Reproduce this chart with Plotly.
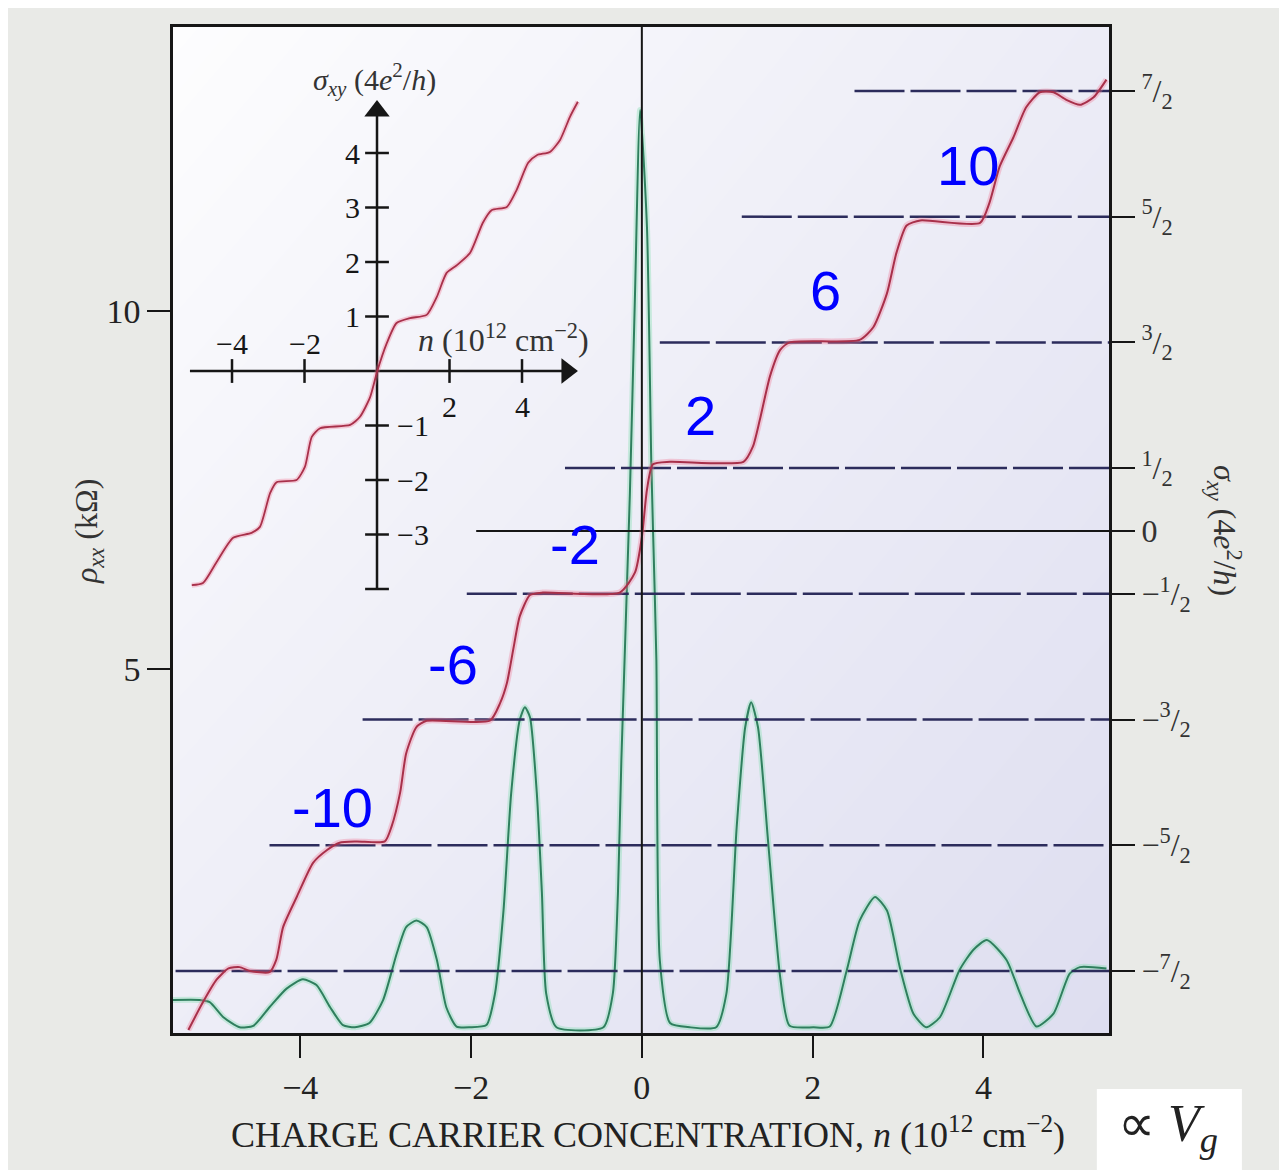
import plotly.graph_objects as go

# ---------------- data ----------------
# longitudinal resistivity rho_xx (kOhm) vs n (1e12 cm^-2)
n_rho = [-5.49, -5.18, -5.06, -4.90, -4.71, -4.55, -4.36, -4.16, -3.97, -3.81, -3.65, -3.50,
         -3.36, -3.19, -3.03, -2.87, -2.76, -2.64, -2.52, -2.40, -2.29, -2.17, -2.01, -1.82,
         -1.72, -1.62, -1.53, -1.43, -1.37, -1.31, -1.23, -1.17, -1.12, -1.00, -0.45, -0.34,
         -0.28, -0.24, -0.14, -0.08, -0.02, 0.06, 0.11, 0.13, 0.17, 0.21, 0.33, 0.56, 0.87,
         0.99, 1.11, 1.21, 1.28, 1.36, 1.48, 1.62, 1.73, 2.01, 2.20, 2.40, 2.55, 2.73, 2.87,
         3.02, 3.18, 3.33, 3.49, 3.72, 3.88, 4.04, 4.27, 4.43, 4.62, 4.82, 5.01, 5.13, 5.44]
rho_xx = [0.38, 0.38, 0.35, 0.14, 0.00, 0.02, 0.28, 0.54, 0.67, 0.59, 0.28, 0.03,
          0.00, 0.06, 0.38, 1.03, 1.40, 1.49, 1.40, 0.94, 0.28, 0.01, 0.00, 0.03,
          0.47, 1.63, 3.27, 4.29, 4.47, 4.33, 3.27, 1.87, 0.47, 0.00, 0.00, 0.47,
          1.87, 3.73, 7.46, 10.25, 12.81, 11.17, 7.92, 6.98, 5.13, 0.94, 0.06, 0.00, 0.00,
          0.47, 2.79, 4.19, 4.54, 4.19, 2.57, 0.70, 0.02, 0.00, 0.01, 0.80, 1.49, 1.82, 1.63,
          0.84, 0.19, 0.00, 0.14, 0.80, 1.08, 1.22, 0.94, 0.47, 0.01, 0.19, 0.75, 0.84, 0.82]

# Hall conductivity sigma_xy (4e^2/h) vs n
n_sigma = [-5.31, -5.14, -4.98, -4.84, -4.71, -4.59, -4.36, -4.28, -4.20, -4.04, -3.85, -3.69,
           -3.54, -3.34, -3.01, -2.93, -2.83, -2.76, -2.64, -2.52, -1.78, -1.66, -1.58, -1.50,
           -1.43, -1.31, -1.16, -0.26, -0.08, 0.00, 0.06, 0.13, 0.33, 1.19, 1.30, 1.38, 1.50,
           1.62, 1.73, 2.55, 2.71, 2.87, 2.98, 3.10, 3.26, 3.96, 4.07, 4.19, 4.35, 4.50, 4.66,
           4.82, 4.97, 5.13, 5.29, 5.44]
sigma_xy = [-3.97, -3.75, -3.57, -3.48, -3.47, -3.50, -3.51, -3.41, -3.15, -2.91, -2.64, -2.54,
            -2.48, -2.47, -2.47, -2.35, -2.08, -1.77, -1.56, -1.51, -1.51, -1.37, -1.21, -0.92,
            -0.68, -0.51, -0.49, -0.49, -0.33, -0.05, 0.33, 0.53, 0.55, 0.55, 0.67, 0.88, 1.23,
            1.44, 1.50, 1.52, 1.62, 1.89, 2.21, 2.43, 2.47, 2.45, 2.61, 2.90, 3.13, 3.37, 3.49,
            3.49, 3.43, 3.39, 3.45, 3.59]

# quantised plateau levels and where their guide lines start
plateau_levels = [3.5, 2.5, 1.5, 0.5, -0.5, -1.5, -2.5, -3.5]
plateau_start_n = [2.49, 1.17, 0.21, -0.90, -2.05, -3.27, -4.36, -5.46]
zero_level = 0.0
zero_start_n = -1.94

# filling factor labels
filling_labels = ["10", "6", "2", "-2", "-6", "-10"]

# inset: Hall curve
inset_n = [-5.11, -4.80, -4.42, -3.97, -3.46, -3.23, -2.95, -2.77, -2.22, -1.99, -1.80, -1.57,
           -0.74, -0.47, -0.19, 0.00, 0.27, 0.54, 0.91, 1.37, 1.65, 1.92, 2.20, 2.57, 2.92,
           3.16, 3.58, 3.85, 4.17, 4.41, 4.77, 5.05, 5.32, 5.54]
inset_sigma = [-3.93, -3.89, -3.50, -3.06, -2.97, -2.86, -2.24, -2.04, -2.00, -1.76, -1.21, -1.05,
               -0.99, -0.84, -0.48, -0.02, 0.51, 0.88, 0.97, 1.03, 1.36, 1.80, 1.94, 2.17, 2.72,
               2.95, 3.01, 3.32, 3.82, 3.96, 4.02, 4.24, 4.66, 4.94]

# axis ticks
x_ticks = [-4, -2, 0, 2, 4]
x_ticktext = ["\u22124", "\u22122", "0", "2", "4"]
rho_ticks = [5, 10]
sigma_ticks = [3.5, 2.5, 1.5, 0.5, 0, -0.5, -1.5, -2.5, -3.5]
sigma_ticktext = ["<sup>7</sup>/<sub>2</sub>", "<sup>5</sup>/<sub>2</sub>", "<sup>3</sup>/<sub>2</sub>",
                  "<sup>1</sup>/<sub>2</sub>", "0", "\u2212<sup>1</sup>/<sub>2</sub>",
                  "\u2212<sup>3</sup>/<sub>2</sub>", "\u2212<sup>5</sup>/<sub>2</sub>",
                  "\u2212<sup>7</sup>/<sub>2</sub>"]
inset_xticks = [-4, -2, 2, 4]
inset_xticktext = ["\u22124", "\u22122", "2", "4"]
inset_yticks = [4, 3, 2, 1, -1, -2, -3]
inset_yticktext = ["4", "3", "2", "1", "\u22121", "\u22122", "\u22123"]
inset_yend = -4.0

# ---------------- styling ----------------
SERIF = "Liberation Serif"
RED = "#a8304a"
RED_GLOW = "rgba(240,120,150,0.35)"
GREEN = "#2f7f5e"
GREEN_GLOW = "rgba(120,220,170,0.35)"
NAVY = "#2c2c5c"
INK = "#161616"

fig = go.Figure()

# soft gradient background of the plotting area
fig.add_trace(go.Heatmap(x=[-5.5, 5.5], y=[0, 14], z=[[0.5, 1.0], [0.0, 0.55]],
                         zsmooth="best", showscale=False, hoverinfo="skip",
                         colorscale=[[0, "#fdfdfe"], [1, "#dedef0"]],
                         xaxis="x", yaxis="y"))

# rho_xx
fig.add_trace(go.Scatter(x=n_rho, y=rho_xx, mode="lines", xaxis="x", yaxis="y",
                         line=dict(color=GREEN_GLOW, width=6, shape="spline", smoothing=0.6),
                         hoverinfo="skip", showlegend=False))
fig.add_trace(go.Scatter(x=n_rho, y=rho_xx, mode="lines", xaxis="x", yaxis="y",
                         line=dict(color=GREEN, width=2, shape="spline", smoothing=0.6),
                         showlegend=False))

# plateau guide lines
x_right = 5.47
for lev, st in zip(plateau_levels, plateau_start_n):
    fig.add_trace(go.Scatter(x=[st, x_right], y=[lev, lev], mode="lines", xaxis="x", yaxis="y2",
                             line=dict(color=NAVY, width=2.5, dash="50px,6px"),
                             hoverinfo="skip", showlegend=False))
fig.add_trace(go.Scatter(x=[zero_start_n, x_right], y=[zero_level, zero_level], mode="lines",
                         xaxis="x", yaxis="y2", line=dict(color=INK, width=2),
                         hoverinfo="skip", showlegend=False))

# sigma_xy
fig.add_trace(go.Scatter(x=n_sigma, y=sigma_xy, mode="lines", xaxis="x", yaxis="y2",
                         line=dict(color=RED_GLOW, width=6, shape="spline", smoothing=0.6),
                         hoverinfo="skip", showlegend=False))
fig.add_trace(go.Scatter(x=n_sigma, y=sigma_xy, mode="lines", xaxis="x", yaxis="y2",
                         line=dict(color=RED, width=2, shape="spline", smoothing=0.6),
                         showlegend=False))

# ---------------- inset ----------------
fig.add_trace(go.Scatter(x=[-5.16, 5.2], y=[0, 0], mode="lines", xaxis="x3", yaxis="y3",
                         line=dict(color=INK, width=2.5), hoverinfo="skip", showlegend=False))
fig.add_trace(go.Scatter(x=[0, 0], y=[inset_yend, 4.7], mode="lines", xaxis="x3", yaxis="y3",
                         line=dict(color=INK, width=2.5), hoverinfo="skip", showlegend=False))
fig.add_trace(go.Scatter(x=[5.24], y=[0], mode="markers", xaxis="x3", yaxis="y3",
                         marker=dict(symbol="triangle-right", size=22, color=INK),
                         hoverinfo="skip", showlegend=False))
fig.add_trace(go.Scatter(x=[0], y=[4.77], mode="markers", xaxis="x3", yaxis="y3",
                         marker=dict(symbol="triangle-up", size=22, color=INK),
                         hoverinfo="skip", showlegend=False))
fig.add_trace(go.Scatter(x=inset_xticks, y=[0] * len(inset_xticks), mode="markers",
                         xaxis="x3", yaxis="y3",
                         marker=dict(symbol="line-ns", size=17, line=dict(color=INK, width=2.5)),
                         hoverinfo="skip", showlegend=False))
fig.add_trace(go.Scatter(x=[0] * (len(inset_yticks) + 1), y=inset_yticks + [inset_yend],
                         mode="markers", xaxis="x3", yaxis="y3",
                         marker=dict(symbol="line-ew", size=17, line=dict(color=INK, width=2.5)),
                         hoverinfo="skip", showlegend=False))
fig.add_trace(go.Scatter(x=inset_n, y=inset_sigma, mode="lines", xaxis="x3", yaxis="y3",
                         line=dict(color=RED_GLOW, width=5, shape="spline", smoothing=0.6),
                         hoverinfo="skip", showlegend=False))
fig.add_trace(go.Scatter(x=inset_n, y=inset_sigma, mode="lines", xaxis="x3", yaxis="y3",
                         line=dict(color=RED, width=1.8, shape="spline", smoothing=0.6),
                         showlegend=False))

annotations = []


def note(**kw):
    kw.setdefault("showarrow", False)
    kw.setdefault("xanchor", "center")
    kw.setdefault("yanchor", "middle")
    annotations.append(kw)


# inset tick labels
for v, t in zip(inset_xticks, inset_xticktext):
    note(x=v, y=(0.51 if v < 0 else -0.66), xref="x3", yref="y3", text=t,
         font=dict(family=SERIF, size=30, color=INK))
for v, t in zip(inset_yticks, inset_yticktext):
    note(x=(-0.69 if v > 0 else 0.99), y=v, xref="x3", yref="y3", text=t,
         font=dict(family=SERIF, size=30, color=INK))
note(x=-0.06, y=5.34, xref="x3", yref="y3",
     text="<i>\u03c3</i><sub><i>xy</i></sub> (4<i>e</i><sup>2</sup>/<i>h</i>)",
     font=dict(family=SERIF, size=30, color="#333333"))
note(x=3.50, y=0.61, xref="x3", yref="y3",
     text="<i>n</i> (10<sup>12</sup> cm<sup>\u22122</sup>)",
     font=dict(family=SERIF, size=32, color="#333333"))

# filling factor labels (positions in n / sigma_xy coordinates)
fill_pos = [(3.82, 2.91), (2.15, 1.91), (0.69, 0.92), (-0.78, -0.11), (-2.21, -1.06), (-3.62, -2.20)]
for lab, (xx, yy) in zip(filling_labels, fill_pos):
    note(x=xx, y=yy, xref="x", yref="y2", text=lab,
         font=dict(family="Liberation Sans", size=56, color="#0000ff"))

# axis titles
note(x=0.5075, y=-0.0994, xref="paper", yref="paper",
     text="CHARGE CARRIER CONCENTRATION, <i>n</i> (10<sup>12</sup> cm<sup>\u22122</sup>)",
     font=dict(family=SERIF, size=36, color="#222222"))
note(x=-0.0908, y=0.498, xref="paper", yref="paper", textangle=-90,
     text="<i>\u03c1</i><sub><i>xx</i></sub> (k\u03a9)",
     font=dict(family=SERIF, size=32, color="#333333"))
note(x=1.124, y=0.50, xref="paper", yref="paper", textangle=90,
     text="<i>\u03c3</i><sub><i>xy</i></sub> (4<i>e</i><sup>2</sup>/<i>h</i>)",
     font=dict(family=SERIF, size=32, color="#333333"))
note(x=1.063, y=-0.0944, xref="paper", yref="paper",
     text="\u221d <i>V</i><sub><i>g</i></sub>",
     font=dict(family=SERIF, size=52, color="#222222"))

shapes = [
    dict(type="line", xref="x", yref="paper", x0=0, x1=0, y0=0, y1=1,
         line=dict(color=INK, width=2), layer="above"),
    dict(type="rect", xref="paper", yref="paper", x0=0.987, x1=1.142, y0=-0.137, y1=-0.0557,
         fillcolor="white", line=dict(width=0), layer="below"),
]

axis_common = dict(showgrid=False, zeroline=False, automargin=False)
fig.update_layout(
    width=1279, height=1162,
    margin=dict(l=165, r=178, t=19, b=137),
    paper_bgcolor="#e9eae7",
    plot_bgcolor="#f4f4fa",
    showlegend=False,
    xaxis=dict(range=[-5.49, 5.47], tickvals=x_ticks, ticktext=x_ticktext,
               ticks="outside", ticklen=22, tickwidth=2, tickcolor=INK,
               showline=True, linecolor=INK, linewidth=2.5, mirror=True,
               tickfont=dict(family=SERIF, size=34, color="#222222"), **axis_common),
    yaxis=dict(range=[-0.08, 13.97], tickvals=rho_ticks, ticks="outside", ticklen=23,
               tickwidth=2, tickcolor=INK, showline=True, linecolor=INK, linewidth=2.5,
               mirror=True, tickfont=dict(family=SERIF, size=34, color="#222222"),
               **axis_common),
    yaxis2=dict(range=[-3.994, 4.009], overlaying="y", side="right", anchor="x",
                tickvals=sigma_ticks, ticktext=sigma_ticktext, ticks="outside", ticklen=25,
                tickwidth=2, tickcolor=INK, showline=False,
                tickfont=dict(family=SERIF, size=32, color="#333333"), **axis_common),
    xaxis3=dict(range=[-5.628, 20.193], overlaying="x", anchor="y3", visible=False,
                **axis_common),
    yaxis3=dict(range=[-12.147, 6.312], overlaying="y", anchor="x3", visible=False,
                **axis_common),
    annotations=annotations,
    shapes=shapes,
)

fig.write_html("out.html")
